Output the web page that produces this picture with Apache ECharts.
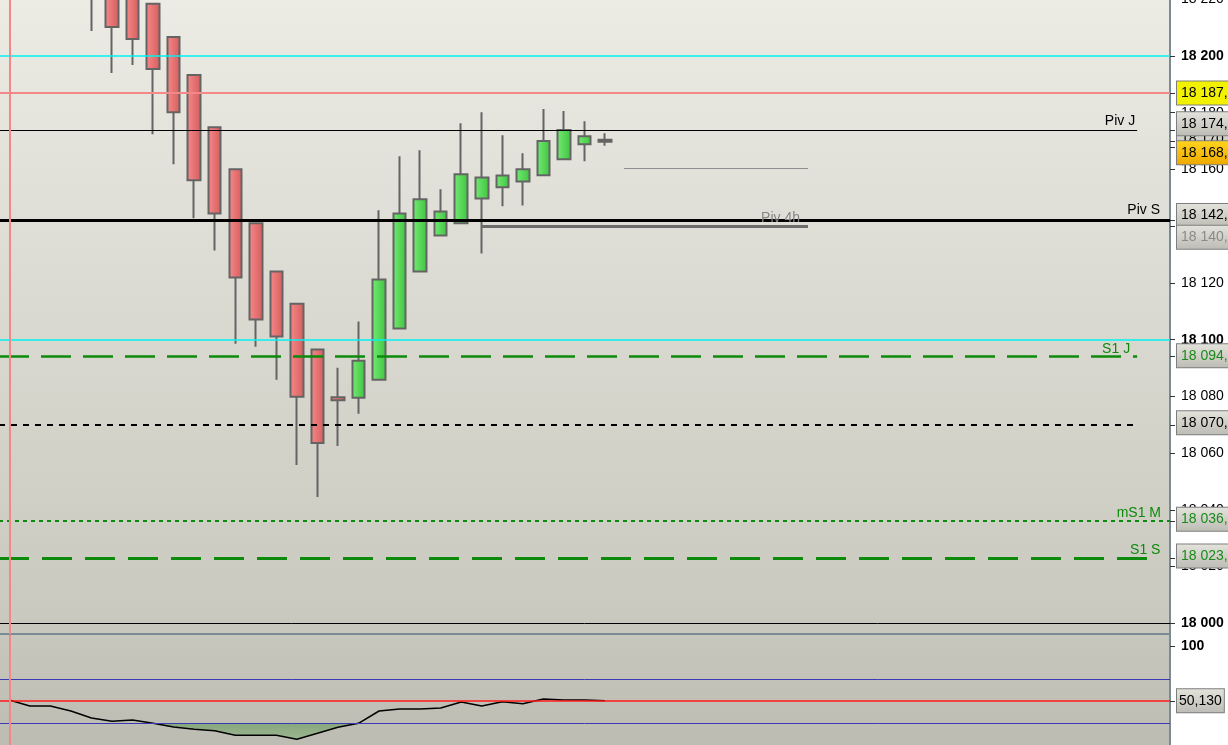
<!DOCTYPE html>
<html><head><meta charset="utf-8">
<script src="https://cdn.jsdelivr.net/npm/echarts@6/dist/echarts.min.js"></script>
<style>html,body{margin:0;padding:0;background:#fff;}#c{width:1228px;height:745px;}</style>
</head><body><div id="c"></div>
<script>
// ---------- data ----------
const slotCount = 57;          // bar slots visible across the pane
const firstCandle = 4;         // slot index of first visible candle
const opens  = [18236, 18227, 18222, 18218.4, 18206.7, 18193.3, 18174.9, 18160.1, 18141.0, 18124.0, 18112.7, 18096.5, 18079.7, 18079.5, 18085.9, 18103.9, 18124.0, 18136.7, 18141.0, 18149.8, 18153.7, 18155.8, 18158.0, 18163.6, 18168.9, 18169.8];
const closes = [18224, 18210.2, 18206.0, 18195.4, 18180.2, 18156.2, 18144.5, 18121.9, 18107.1, 18101.1, 18079.9, 18063.6, 18078.6, 18092.6, 18121.2, 18144.5, 18149.5, 18145.2, 18158.3, 18157.2, 18157.9, 18160.1, 18170.0, 18173.9, 18171.7, 18170.5];
const lows   = [18208.8, 18194.0, 18196.8, 18172.4, 18161.8, 18142.8, 18131.4, 18098.6, 18097.5, 18085.9, 18055.8, 18044.5, 18062.5, 18073.9, 18085.9, 18103.9, 18124.0, 18136.7, 18141.0, 18130.4, 18147.0, 18147.3, 18158.0, 18163.6, 18162.9, 18168.4];
const highs  = [18240, 18230, 18224, 18218.4, 18206.7, 18193.3, 18174.9, 18160.1, 18141.0, 18124.0, 18112.7, 18096.5, 18090.1, 18106.4, 18145.6, 18164.7, 18166.8, 18153.0, 18176.3, 18180.2, 18172.1, 18165.7, 18181.3, 18180.6, 18177.0, 18172.8];
const rsi = [50.9, 45.5, 45.5, 40.9, 34.5, 31.5, 32.7, 29.7, 26.4, 24.3, 23.0, 18.8, 18.8, 18.8, 15.2, 20.6, 26.1, 29.7, 40.9, 42.7, 42.7, 43.6, 49.1, 45.5, 49.4, 47.5, 51.8, 50.9, 50.9, 50.13];
const priceTicks = [18000, 18020, 18040, 18060, 18080, 18100, 18120, 18140, 18160, 18180, 18200, 18220];
const cyanLevels = [18200, 18100];
const salmonLevel = 18187;
const pivJ = 18174, pivS = 18142, piv4h = 18140, shortGrey = 18160.4;
const s1J = 18094, dottedLevel = 18070, mS1M = 18036, s1S = 18023, baseLevel = 18000;
const boxValues = [18170, 18187, 18174, 18168, 18142, 18140, 18094, 18070, 18036, 18023];
const boxTexts  = ['18 170,00', '18 187,00', '18 174,00', '18 168,00', '18 142,00', '18 140,00', '18 094,00', '18 070,00', '18 036,00', '18 023,00'];
const rsiUpper = 70, rsiLower = 30, rsiLast = 50.13, rsiLastText = '50,130';
const rsiTicks = [100];
const categories = Array.from({length: slotCount}, (_, i) => 'b' + (i + 1));

// ---------- build ----------
const candleData = categories.map((c, i) => {
  const k = i - firstCandle;
  if (k < 0 || k >= opens.length) return '-';
  return [opens[k], closes[k], lows[k], highs[k]];
});
const rsiData = categories.map((c, i) => i < rsi.length ? rsi[i] : '-');
const rsiLowData = categories.map((c, i) => i < rsi.length ? Math.min(rsi[i], rsiLower) : '-');

const FONT = "'Liberation Sans', Arial, sans-serif";
const AXIS_COL = '#7b8b95';
const fmtPrice = v => { const s = String(v); return s.slice(0, 2) + ' ' + s.slice(2); };
const lin = (c1, c2, horiz) => ({type: 'linear', x: 0, y: 0, x2: horiz ? 1 : 0, y2: horiz ? 0 : 1,
  colorStops: [{offset: 0, color: c1}, {offset: 1, color: c2}]});

const greyBox = lin('#e4e4dd', '#bcbcb4');
const boxStyle = {
  '18 187,00': {bg: '#f2f200', color: '#000'},
  '18 168,00': {bg: lin('#ffd51e', '#eda800'), color: '#000'},
  '18 140,00': {bg: greyBox, color: '#8a8a8a'},
  '18 094,00': {bg: greyBox, color: '#1b8a1b'},
  '18 036,00': {bg: greyBox, color: '#1b8a1b'},
  '18 023,00': {bg: greyBox, color: '#1b8a1b'}
};
const boxOffset = {'18 187,00': 0, '18 170,00': -2, '18 174,00': -6, '18 168,00': 6, '18 142,00': -5, '18 140,00': 11, '18 094,00': -1};

function boxLine(v, txt) {
  const st = boxStyle[txt] || {bg: greyBox, color: '#000'};
  const off = boxOffset[txt] !== undefined ? boxOffset[txt] : -2;
  return {
    yAxis: v,
    lineStyle: {color: 'rgba(0,0,0,0)', width: 1, opacity: 1},
    label: {
      show: true, position: 'end', distance: 7, formatter: txt, offset: [0, off], opacity: 1,
      fontSize: 14, fontFamily: FONT, color: st.color, lineHeight: 16,
      backgroundColor: st.bg, borderColor: '#7e7e7e', borderWidth: 1,
      padding: [4, 30, 3, 4]
    }
  };
}
function lvlLabel(txt, color, dx, dy) {
  return {show: true, position: 'insideEndTop', formatter: txt, color: color,
    fontSize: 14, fontFamily: FONT, distance: [dx, dy]};
}
const GREEN = '#0c8a0c';
const levelLines = [
  {yAxis: cyanLevels[0], lineStyle: {color: '#00f2f2', width: 1.5, type: 'solid'}},
  {yAxis: cyanLevels[1], lineStyle: {color: '#00f2f2', width: 1.5, type: 'solid'}},
  {yAxis: salmonLevel, lineStyle: {color: '#f48888', width: 2, type: 'solid'}},
  [{coord: [-0.5, pivJ], lineStyle: {color: '#000', width: 1.2, type: 'solid'}, label: lvlLabel('Piv J', '#000', 2, 2)}, {coord: [54.9, pivJ]}],
  [{coord: [29.92, shortGrey], lineStyle: {color: '#8e8e8e', width: 1.2, type: 'solid'}}, {coord: [38.88, shortGrey]}],
  [{coord: [23.0, piv4h], lineStyle: {color: '#6c6c6c', width: 3, type: 'solid'}, label: lvlLabel('Piv 4h', '#858585', 8, 1)}, {coord: [38.88, piv4h]}],
  {yAxis: pivS, lineStyle: {color: '#000', width: 3, type: 'solid'}, label: lvlLabel('Piv S', '#000', 10, 3)},
  [{coord: [-0.5, s1J], lineStyle: {color: GREEN, width: 2.5, type: [30, 12]}, label: lvlLabel('S1 J', GREEN, 7, 1)}, {coord: [54.9, s1J]}],
  [{coord: [-0.5, dottedLevel], lineStyle: {color: '#000', width: 2, type: [6, 6]}}, {coord: [54.75, dottedLevel]}],
  {yAxis: mS1M, lineStyle: {color: GREEN, width: 2, type: [4, 4]}, label: lvlLabel('mS1 M', GREEN, 9, 1)},
  [{coord: [-0.5, s1S], lineStyle: {color: GREEN, width: 3, type: [30, 13]}, label: lvlLabel('S1 S', GREEN, -11, 1)}, {coord: [55.5, s1S]}],
  {yAxis: baseLevel, lineStyle: {color: '#000', width: 1, type: 'solid'}},
  {xAxis: 0, lineStyle: {color: '#f48888', width: 2, type: 'solid'}}
].concat(boxValues.map((v, i) => boxLine(v, boxTexts[i])));

const option = {
  animation: false,
  backgroundColor: '#ffffff',
  textStyle: {fontFamily: FONT},
  grid: [
    {left: -1, right: 58, top: -2, height: 636, show: true, borderWidth: 0, outerBoundsMode: 'none', containLabel: false,
      backgroundColor: lin('#ecebe4', '#c9c8be')},
    {left: -1, right: 58, top: 635, height: 110, show: true, borderWidth: 0, outerBoundsMode: 'none', containLabel: false,
      backgroundColor: lin('#c8c7be', '#bdbcb2')}
  ],
  xAxis: [
    {type: 'category', gridIndex: 0, data: categories, boundaryGap: true,
      axisLine: {show: true, onZero: false, lineStyle: {color: AXIS_COL, width: 2}}, axisTick: {show: false}, axisLabel: {show: false}, splitLine: {show: false}},
    {type: 'value', gridIndex: 0, min: -0.5, max: slotCount - 0.5, show: false, splitLine: {show: false}, axisLine: {onZero: false}},
    {type: 'category', gridIndex: 1, data: categories, boundaryGap: true, show: false, axisLine: {onZero: false}}
  ],
  yAxis: [
    {type: 'value', gridIndex: 0, position: 'right', min: 17996.23, max: 18220.45, scale: true,
      splitLine: {show: false},
      axisLine: {show: true, onZero: false, lineStyle: {color: AXIS_COL, width: 2}},
      axisTick: {show: true, length: 5, lineStyle: {color: '#333'}, customValues: priceTicks.concat(boxValues)},
      axisLabel: {show: true, customValues: priceTicks, margin: 11, fontSize: 14, color: '#000', fontFamily: FONT,
        formatter: v => (v % 100 === 0 ? '{b|' : '{n|') + fmtPrice(v) + '}',
        rich: {b: {fontWeight: 'bold', fontSize: 14, fontFamily: FONT, color: '#000'}, n: {fontSize: 14, fontFamily: FONT, color: '#000'}}}
    },
    {type: 'value', gridIndex: 1, position: 'right', min: 10, max: 110,
      splitLine: {show: false},
      axisLine: {show: true, onZero: false, lineStyle: {color: AXIS_COL, width: 2}},
      axisTick: {show: true, length: 5, lineStyle: {color: '#333'}, customValues: rsiTicks.concat([rsiLast])},
      axisLabel: {show: true, customValues: rsiTicks, margin: 11, fontSize: 14, fontWeight: 'bold', color: '#000', fontFamily: FONT}
    }
  ],
  series: [
    {
      name: 'price', type: 'candlestick', xAxisIndex: 0, yAxisIndex: 0, data: candleData,
      barWidth: 13, clip: false,
      itemStyle: {
        color: lin('#74ec74', '#3fc23f', true), color0: lin('#f88a8a', '#d45c5c', true),
        borderColor: '#646464', borderColor0: '#646464', borderWidth: 2
      }
    },
    {
      name: 'levels', type: 'line', xAxisIndex: 1, yAxisIndex: 0, data: [], clip: false, silent: true,
      markLine: {silent: true, symbol: ['none', 'none'], animation: false, label: {show: false}, data: levelLines}
    },
    {
      name: 'rsiLow', type: 'line', xAxisIndex: 2, yAxisIndex: 1, data: rsiLowData, symbol: 'none', silent: true,
      lineStyle: {width: 0, opacity: 0},
      areaStyle: {origin: rsiLower, color: lin('rgba(95,150,85,0.85)', 'rgba(125,175,115,0.75)')}
    },
    {
      name: 'rsi', type: 'line', xAxisIndex: 2, yAxisIndex: 1, data: rsiData, symbol: 'none', clip: false,
      lineStyle: {color: '#000', width: 1.5}, z: 4,
      markLine: {silent: true, symbol: ['none', 'none'], animation: false, label: {show: false},
        data: [
          {yAxis: rsiUpper, lineStyle: {color: '#3a3ab4', width: 1, type: 'solid'}},
          {yAxis: rsiLower, lineStyle: {color: '#3a3ab4', width: 1, type: 'solid'}},
          {yAxis: rsiLast, lineStyle: {color: '#ff1a1a', width: 1.5, type: 'solid'},
            label: {show: true, position: 'end', distance: 7, formatter: rsiLastText, fontSize: 14, fontFamily: FONT,
              color: '#000', lineHeight: 16, backgroundColor: greyBox, borderColor: '#7e7e7e', borderWidth: 1, padding: [4, 2, 3, 2]}},
          {xAxis: 0, lineStyle: {color: '#f48888', width: 2, type: 'solid'}}
        ]}
    }
  ]
};
const chart = echarts.init(document.getElementById('c'), null, {renderer: 'canvas'});
chart.setOption(option);
</script></body></html>
